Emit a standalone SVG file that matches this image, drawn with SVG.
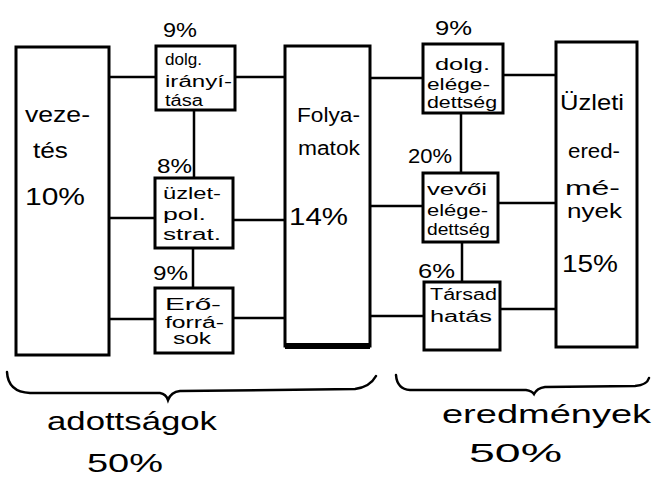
<svg xmlns="http://www.w3.org/2000/svg" width="659" height="491" viewBox="0 0 659 491">
<style>
.box{fill:#fff;stroke:#000;stroke-width:3}
.ln{fill:none;stroke:#000;stroke-width:2.5;stroke-linecap:round}
text{font-family:"Liberation Sans","DejaVu Sans",sans-serif;fill:#000}
.s{font-size:16px}
.m{font-size:20px}
.b{font-size:22px}
.l{font-size:24px}
.xl{font-size:25px}
</style>
<rect width="659" height="491" fill="#fff"/>
<g id="connectors">
<path class="ln" d="M109 77H156M235 77H285M109 218H155M233 220H285M109 319H155M233 318H285M194 110V178M193 248V288"/>
<path class="ln" d="M370 78H423M503 75H556M370 206H423M498 203H556M370 316H424M500 309H556M461 113V173M462 242V282"/>
</g>
<g id="vezetes">
<rect class="box" x="16" y="47" width="93" height="308"/>
<text class="b" x="25" y="122" textLength="65" lengthAdjust="spacingAndGlyphs">veze-</text>
<text class="b" x="33" y="158" textLength="35" lengthAdjust="spacingAndGlyphs">tés</text>
<text class="l" x="25" y="205" textLength="60" lengthAdjust="spacingAndGlyphs">10%</text>
</g>
<g id="dolg-iranyitasa">
<text class="m" x="163" y="37" textLength="34" lengthAdjust="spacingAndGlyphs">9%</text>
<rect class="box" x="156" y="46" width="79" height="64"/>
<text class="s" x="165" y="65" textLength="37" lengthAdjust="spacingAndGlyphs">dolg.</text>
<text class="s" x="165" y="87" textLength="67" lengthAdjust="spacingAndGlyphs">irányí-</text>
<text class="s" x="165" y="106" textLength="38" lengthAdjust="spacingAndGlyphs">tása</text>
</g>
<g id="uzletpol">
<text class="m" x="157" y="173" textLength="35" lengthAdjust="spacingAndGlyphs">8%</text>
<rect class="box" x="155" y="178" width="78" height="70"/>
<text class="s" x="163" y="199" textLength="58" lengthAdjust="spacingAndGlyphs">üzlet-</text>
<text class="s" x="163" y="220" textLength="43" lengthAdjust="spacingAndGlyphs">pol.</text>
<text class="s" x="163" y="240" textLength="58" lengthAdjust="spacingAndGlyphs">strat.</text>
</g>
<g id="eroforrasok">
<text class="m" x="153" y="280" textLength="35" lengthAdjust="spacingAndGlyphs">9%</text>
<rect class="box" x="155" y="288" width="78" height="65"/>
<text class="s" x="165" y="310" textLength="56" lengthAdjust="spacingAndGlyphs">Erő-</text>
<text class="s" x="165" y="328" textLength="59" lengthAdjust="spacingAndGlyphs">forrá-</text>
<text class="s" x="173" y="344" textLength="38" lengthAdjust="spacingAndGlyphs">sok</text>
</g>
<g id="folyamatok">
<rect class="box" x="285" y="46" width="85" height="300"/>
<path d="M285 346H370" stroke="#000" stroke-width="6"/>
<text class="m" x="297" y="122" textLength="63" lengthAdjust="spacingAndGlyphs">Folya-</text>
<text class="m" x="298" y="155" textLength="62" lengthAdjust="spacingAndGlyphs">matok</text>
<text class="l" x="289" y="225" textLength="59" lengthAdjust="spacingAndGlyphs">14%</text>
</g>
<g id="dolg-elegedettseg">
<text class="m" x="435" y="35" textLength="37" lengthAdjust="spacingAndGlyphs">9%</text>
<rect class="box" x="423" y="44" width="80" height="69"/>
<text class="s" x="435" y="70" textLength="55" lengthAdjust="spacingAndGlyphs">dolg.</text>
<text class="s" x="427" y="90" textLength="63" lengthAdjust="spacingAndGlyphs">elége-</text>
<text class="s" x="427" y="108" textLength="70" lengthAdjust="spacingAndGlyphs">dettség</text>
</g>
<g id="vevoi-elegedettseg">
<text class="m" x="408" y="163" textLength="44" lengthAdjust="spacingAndGlyphs">20%</text>
<rect class="box" x="423" y="173" width="75" height="69"/>
<text class="s" x="427" y="195" textLength="60" lengthAdjust="spacingAndGlyphs">vevői</text>
<text class="s" x="427" y="216" textLength="61" lengthAdjust="spacingAndGlyphs">elége-</text>
<text class="s" x="427" y="235" textLength="63" lengthAdjust="spacingAndGlyphs">dettség</text>
</g>
<g id="tarsadalmi-hatas">
<text class="m" x="418" y="278" textLength="37" lengthAdjust="spacingAndGlyphs">6%</text>
<rect class="box" x="424" y="282" width="76" height="68"/>
<text class="s" x="430" y="300" textLength="67" lengthAdjust="spacingAndGlyphs">Társad</text>
<text class="s" x="430" y="322" textLength="62" lengthAdjust="spacingAndGlyphs">hatás</text>
</g>
<g id="uzleti-eredmenyek">
<rect class="box" x="556" y="42" width="81" height="305"/>
<text class="b" x="560" y="110" textLength="64" lengthAdjust="spacingAndGlyphs">Üzleti</text>
<text class="m" x="568" y="158" textLength="52" lengthAdjust="spacingAndGlyphs">ered-</text>
<text class="m" x="565" y="195" textLength="55" lengthAdjust="spacingAndGlyphs">mé-</text>
<text class="m" x="567" y="218" textLength="55" lengthAdjust="spacingAndGlyphs">nyek</text>
<text class="l" x="562" y="272" textLength="56" lengthAdjust="spacingAndGlyphs">15%</text>
</g>
<g id="adottsagok">
<path class="ln" d="M7 372Q8 392 30 393L160 393Q166 394 168 400Q171 392 180 391L355 389Q370 387 376 376"/>
<text class="xl" x="47" y="430" textLength="170" lengthAdjust="spacingAndGlyphs">adottságok</text>
<text class="xl" x="87" y="472" textLength="76" lengthAdjust="spacingAndGlyphs">50%</text>
</g>
<g id="eredmenyek">
<path class="ln" d="M396 375Q397 389 410 390L526 390Q532 391 534 394Q537 388 545 387L635 386Q647 385 649 378"/>
<text class="xl" x="442" y="423" textLength="209" lengthAdjust="spacingAndGlyphs">eredmények</text>
<text class="xl" x="469" y="462" textLength="93" lengthAdjust="spacingAndGlyphs">50%</text>
</g>
</svg>
